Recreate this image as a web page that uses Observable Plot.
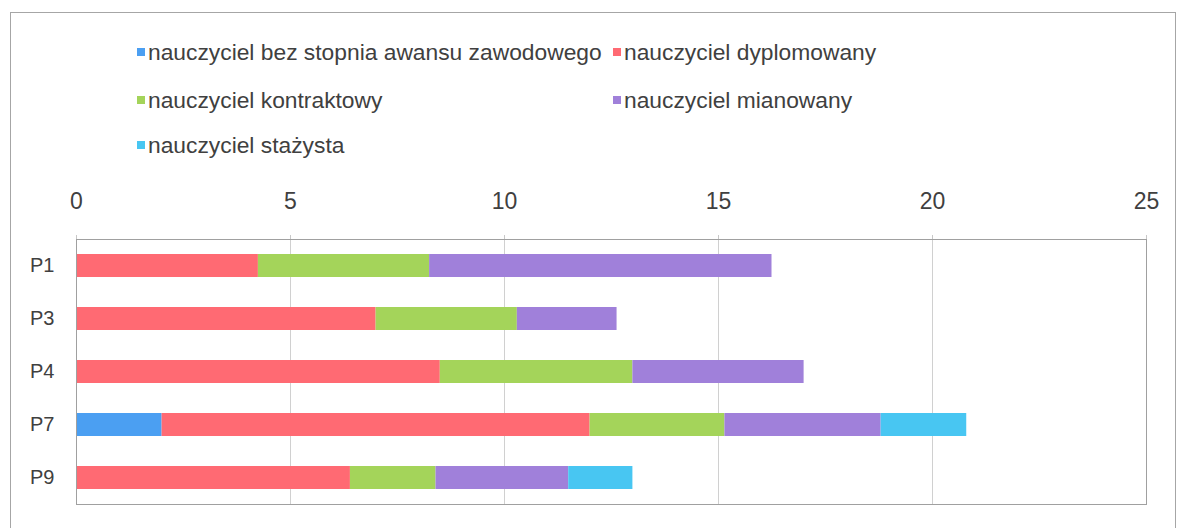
<!DOCTYPE html>
<html><head><meta charset="utf-8">
<script src="https://cdn.jsdelivr.net/npm/d3@7"></script>
<script src="https://cdn.jsdelivr.net/npm/@observablehq/plot@0.6"></script>
<style>
body{margin:0;background:#fff;}
#wrap{position:relative;width:1179px;height:528px;overflow:hidden;font-family:"Liberation Sans",Arial,sans-serif;background:#fff;}
#border{position:absolute;left:10px;top:12px;width:1164px;height:540px;border:1px solid #a6a6a6;}
.leg{position:absolute;font-size:22.8px;color:#404040;white-space:nowrap;display:flex;align-items:center;height:26px;line-height:26px;}
.sw{width:8px;height:8px;margin-right:3px;flex:none;}
#chart{position:absolute;left:0;top:0;}
</style></head>
<body>
<div id="wrap"><div id="border"></div><div id="legend"></div><div id="chart"></div></div>
<script>
const categories = ["P1", "P3", "P4", "P7", "P9"];
const series = [
  "nauczyciel bez stopnia awansu zawodowego",
  "nauczyciel dyplomowany",
  "nauczyciel kontraktowy",
  "nauczyciel mianowany",
  "nauczyciel stażysta"
];
const colors = ["#4b9ff2", "#ff6a73", "#a4d45a", "#a080da", "#48c6f2"];
const bezStopnia  = [0,    0,    0,   2,    0];
const dyplomowany = [4.25, 7,    8.5, 10,   6.4];
const kontraktowy = [4,    3.3,  4.5, 3.15, 2];
const mianowany   = [8,    2.33, 4,   3.65, 3.1];
const stazysta    = [0,    0,    0,   2,    1.5];
const xTicks = [0, 5, 10, 15, 20, 25];

const values = [bezStopnia, dyplomowany, kontraktowy, mianowany, stazysta];
const rows = [];
series.forEach((s, i) => categories.forEach((c, j) => {
  if (values[i][j] > 0) rows.push({cat: c, series: s, value: values[i][j]});
}));

// legend (two columns, three rows)
const legendPos = [[137, 52], [613, 52], [137, 100], [613, 100], [137, 145]];
const leg = document.getElementById("legend");
series.forEach((s, i) => {
  const d = document.createElement("div");
  d.className = "leg";
  d.style.left = legendPos[i][0] + "px";
  d.style.top = (legendPos[i][1] - 13) + "px";
  d.innerHTML = `<span class="sw" style="background:${colors[i]}"></span><span>${s}</span>`;
  leg.appendChild(d);
});

const chart = Plot.plot({
  width: 1179, height: 528,
  marginTop: 239, marginBottom: 24, marginLeft: 76, marginRight: 33,
  x: {domain: [0, 25], ticks: xTicks},
  y: {domain: categories, paddingInner: 0.575, paddingOuter: 0.2875},
  color: {domain: series, range: colors},
  style: {background: "transparent", fontFamily: "'Liberation Sans', Arial, sans-serif"},
  marks: [
    Plot.gridX(xTicks.slice(1, -1), {stroke: "#d0d0d0", strokeOpacity: 1}),
    Plot.axisX(xTicks, {anchor: "top", tickSize: 5, stroke: "#c8c8c8", tickFormat: () => "", label: null}),
    Plot.axisX(xTicks, {anchor: "top", tickSize: 0, tickPadding: 31, fontSize: 23, fill: "#404040", label: null}),
    Plot.axisY({tickSize: 0, tickPadding: 22, fontSize: 20, fill: "#404040", label: null}),
    Plot.barX(rows, Plot.stackX({y: "cat", x: "value", fill: "series", order: series})),
    Plot.frame({stroke: "#a0a0a0"})
  ]
});
document.getElementById("chart").appendChild(chart);
</script>
</body></html>
